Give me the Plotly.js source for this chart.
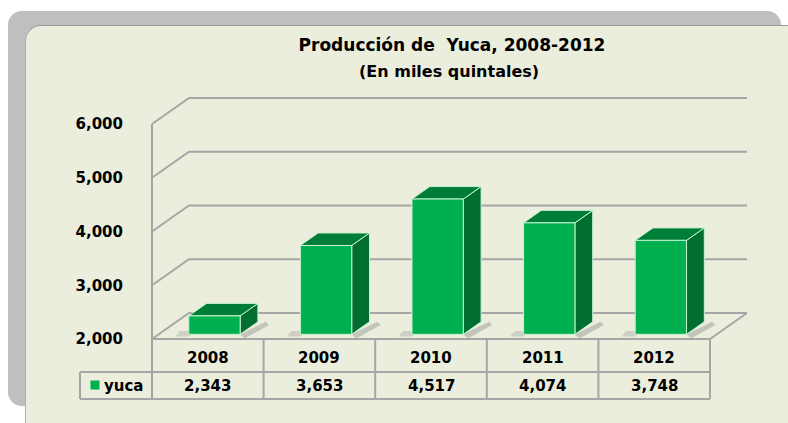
<!DOCTYPE html>
<html>
<head>
<meta charset="utf-8">
<script src="https://cdn.plot.ly/plotly-3.0.1.min.js"></script>
<style>
  html, body { margin: 0; padding: 0; background: #ffffff; overflow: hidden; }
  #frame { position: absolute; left: 8px; top: 11px; width: 773px; height: 395px; background: #BFBFBF; border-radius: 14px; }
  #panel { position: absolute; left: 25px; top: 25px; width: 800px; height: 430px; background: #EBEEDD; border-radius: 16px; border-top: 1px solid #9a9a9a; border-left: 1px solid #b0b0b0; }
  #chart { position: absolute; left: 0; top: 0; width: 788px; height: 423px; }
</style>
</head>
<body>
<div id="frame"></div>
<div id="panel"></div>
<div id="chart"></div>
<script>
// ---- data ----
const years = ['2008', '2009', '2010', '2011', '2012'];
const yuca = [2343, 3653, 4517, 4074, 3748];
const yTicks = [2000, 3000, 4000, 5000, 6000];
const seriesName = 'yuca';
const titleText = 'Producción de  Yuca, 2008-2012';
const subtitleText = '(En miles quintales)';

// ---- geometry / style ----
const W = 788, H = 423;
const X0PX = 152, COLPX = 111.6, BASEPX = 339, PXPER = 0.05375;
const yMin = yTicks[0], yMax = yTicks[yTicks.length - 1];
const px2x = p => (p - X0PX) / COLPX;
const py2y = p => yMin + (BASEPX - p) / PXPER;
const DX = 37 / COLPX, DY = 26 / PXPER;
const F1 = 0.18, F2 = 0.66, BW = 0.46;
const GRID = '#A6A6A6';
const FONT = 'DejaVu Sans, Verdana, sans-serif';
const nCat = years.length;

const traces = [];
const shapes = [];
const annotations = [];

// back wall + side wall gridlines
yTicks.forEach(t => {
  shapes.push({type: 'path', xref: 'x', yref: 'y', layer: 'below',
    path: `M0,${t} L${DX},${t + DY} L${nCat + DX},${t + DY}`,
    line: {color: GRID, width: 2}});
});
// floor front + right edges
shapes.push({type: 'path', xref: 'x', yref: 'y', layer: 'below',
  path: `M0,${yMin} L${nCat},${yMin} L${nCat + DX},${yMin + DY}`,
  line: {color: GRID, width: 2}});
// front axis line
shapes.push({type: 'line', xref: 'x', yref: 'y', layer: 'below',
  x0: 0, x1: 0, y0: yMin, y1: yMax, line: {color: GRID, width: 2}});

// bars
function poly(xs, ys, color) {
  traces.push({type: 'scatter', mode: 'lines', x: xs.concat([xs[0]]), y: ys.concat([ys[0]]),
    fill: 'toself', fillcolor: color, line: {color: '#C8F2D2', width: 1},
    hoverinfo: 'skip', showlegend: false});
}
yuca.forEach((v, i) => {
  const x0 = i + 0.5 - BW / 2 + F1 * DX, x1 = x0 + BW;
  const y0 = yMin + F1 * DY, y1 = v + F1 * DY;
  const d = F2 - F1, ddx = d * DX, ddy = d * DY;
  // shadows
  traces.push({type: 'scatter', mode: 'lines',
    x: [x1, x1 + ddx + 0.07, x1 + ddx + 0.1, x1 + 0.04, x1],
    y: [y0, y0 + ddy, y0 + ddy - 60, y0 - 80, y0],
    fill: 'toself', fillcolor: 'rgba(120,120,120,0.35)', line: {width: 0},
    hoverinfo: 'skip', showlegend: false});
  traces.push({type: 'scatter', mode: 'lines',
    x: [x0 - 0.12, x0, x0 + 0.05, x0 - 0.08, x0 - 0.12],
    y: [y0 - 40, y0 - 40, y0 + 60, y0 + 60, y0 - 40],
    fill: 'toself', fillcolor: 'rgba(120,120,120,0.25)', line: {width: 0},
    hoverinfo: 'skip', showlegend: false});
  poly([x1, x1 + ddx, x1 + ddx, x1], [y0, y0 + ddy, y1 + ddy, y1], '#006E2F');
  poly([x0, x1, x1 + ddx, x0 + ddx], [y1, y1, y1 + ddy, y1 + ddy], '#007E37');
  poly([x0, x1, x1, x0], [y0, y0, y1, y1], '#00B050');
});

// data table
const rowMid = py2y(372), rowBot = py2y(399), legL = px2x(80);
for (let k = 0; k <= nCat; k++) {
  shapes.push({type: 'line', xref: 'x', yref: 'y', x0: k, x1: k, y0: py2y(339), y1: rowBot,
    line: {color: GRID, width: 2}});
}
shapes.push({type: 'line', xref: 'x', yref: 'y', x0: legL, x1: nCat, y0: rowMid, y1: rowMid, line: {color: GRID, width: 2}});
shapes.push({type: 'line', xref: 'x', yref: 'y', x0: legL, x1: nCat, y0: rowBot, y1: rowBot, line: {color: GRID, width: 2}});
shapes.push({type: 'line', xref: 'x', yref: 'y', x0: legL, x1: legL, y0: rowMid, y1: rowBot, line: {color: GRID, width: 2}});

const cellFont = {family: FONT, size: 15, color: '#000000', weight: 'bold'};
years.forEach((yr, i) => {
  annotations.push({x: i + 0.5, y: py2y(358), xref: 'x', yref: 'y', yanchor: 'middle', text: yr, showarrow: false, font: cellFont});
  annotations.push({x: i + 0.5, y: py2y(386), xref: 'x', yref: 'y', yanchor: 'middle',
    text: yuca[i].toLocaleString('en-US'), showarrow: false, font: cellFont});
});
// legend key
traces.push({type: 'scatter', mode: 'markers', x: [px2x(95)], y: [py2y(385)],
  marker: {symbol: 'square', size: 9, color: '#00B050'}, hoverinfo: 'skip', showlegend: false});
annotations.push({x: px2x(102), y: py2y(386), xref: 'x', yref: 'y', xanchor: 'left', yanchor: 'middle',
  text: seriesName, showarrow: false, font: cellFont});

// subtitle
annotations.push({x: 449 / W, y: 1 - 71 / H, xref: 'paper', yref: 'paper', xanchor: 'center', yanchor: 'middle',
  text: subtitleText, showarrow: false, font: {family: FONT, size: 16, color: '#000', weight: 'bold'}});

const layout = {
  width: W, height: H,
  margin: {l: 0, r: 0, t: 0, b: 0, pad: 0},
  paper_bgcolor: 'rgba(0,0,0,0)', plot_bgcolor: 'rgba(0,0,0,0)',
  showlegend: false,
  title: {text: titleText, x: 452 / W, xanchor: 'center', y: 1 - 45 / H, yanchor: 'middle',
    font: {family: FONT, size: 17, color: '#000', weight: 'bold'}},
  xaxis: {range: [px2x(0), px2x(W)], visible: false, fixedrange: true},
  yaxis: {range: [py2y(H), py2y(0)], showgrid: false, zeroline: false, showline: false,
    tickvals: yTicks, tickformat: ',d', ticks: '', anchor: 'free', position: 123 / W,
    tickfont: {family: FONT, size: 15, color: '#000', weight: 'bold'}, fixedrange: true},
  shapes: shapes,
  annotations: annotations
};

Plotly.newPlot('chart', traces, layout, {displayModeBar: false, staticPlot: true});
</script>
</body>
</html>
